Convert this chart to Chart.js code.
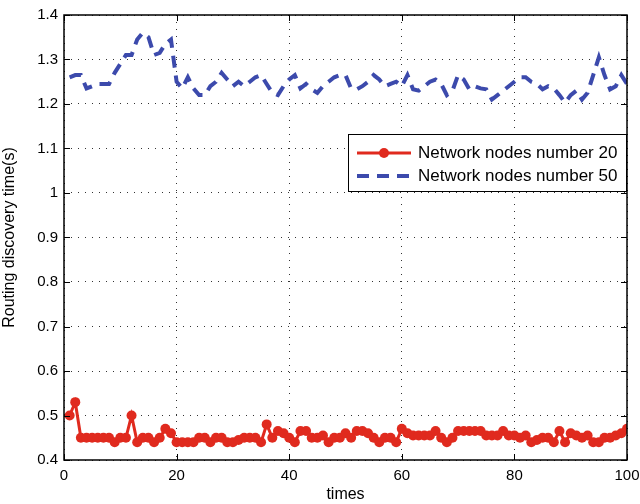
<!DOCTYPE html>
<html>
<head>
<meta charset="utf-8">
<script src="https://cdn.jsdelivr.net/npm/chart.js@4.4.0/dist/chart.umd.min.js"></script>
<style>
  html, body { margin: 0; padding: 0; background: #fff; }
  #wrap { width: 640px; height: 504px; }
</style>
</head>
<body>
<div id="wrap"><canvas id="routeChart" width="640" height="504"></canvas></div>
<script>
// values (x = 1..100)
var nodes20 = [0.50,0.53,0.45,0.45,0.45,0.45,0.45,0.45,0.44,0.45,
               0.45,0.50,0.44,0.45,0.45,0.44,0.45,0.47,0.46,0.44,
               0.44,0.44,0.44,0.45,0.45,0.44,0.45,0.45,0.44,0.44,
               0.445,0.45,0.45,0.45,0.44,0.48,0.45,0.465,0.46,0.45,
               0.44,0.465,0.465,0.45,0.45,0.455,0.44,0.45,0.45,0.46,
               0.45,0.465,0.465,0.46,0.45,0.44,0.45,0.45,0.44,0.47,
               0.46,0.455,0.455,0.455,0.455,0.465,0.45,0.44,0.45,0.465,
               0.465,0.465,0.465,0.465,0.455,0.455,0.455,0.465,0.455,0.455,
               0.45,0.455,0.44,0.445,0.45,0.45,0.44,0.465,0.44,0.46,
               0.455,0.45,0.455,0.44,0.44,0.45,0.45,0.455,0.46,0.47];
var nodes50 = [1.26,1.265,1.265,1.235,1.24,1.245,1.245,1.245,1.27,1.29,
               1.31,1.31,1.345,1.36,1.35,1.31,1.315,1.335,1.345,1.25,
               1.235,1.26,1.235,1.22,1.22,1.24,1.25,1.27,1.255,1.24,
               1.25,1.24,1.25,1.26,1.265,1.245,1.225,1.22,1.24,1.255,
               1.265,1.235,1.245,1.233,1.225,1.24,1.25,1.26,1.265,1.265,
               1.235,1.233,1.24,1.25,1.265,1.255,1.24,1.245,1.25,1.24,
               1.265,1.233,1.23,1.24,1.25,1.255,1.245,1.22,1.23,1.265,
               1.255,1.233,1.24,1.235,1.233,1.21,1.22,1.23,1.24,1.25,
               1.26,1.26,1.25,1.245,1.233,1.24,1.235,1.22,1.203,1.22,
               1.23,1.21,1.225,1.265,1.305,1.265,1.233,1.24,1.265,1.245];
var xTicks = [0, 20, 40, 60, 80, 100];
var yTicks = [0.4,0.5,0.6,0.7,0.8,0.9,1,1.1,1.2,1.3,1.4];
var seriesNames = ['Network nodes number 20', 'Network nodes number 50'];

function toPoints(arr) {
  return arr.map(function(v, i){ return {x: i + 1, y: v}; });
}

var RED = 'rgb(224,42,30)';
var BLUE = 'rgb(60,74,172)';
var FONT = '"Liberation Sans", Arial, sans-serif';

// frame, inward ticks and the legend box (matlab look)
var framePlugin = {
  id: 'framePlugin',
  afterDraw: function(chart) {
    var c = chart.ctx, a = chart.chartArea;
    var xs = chart.scales.x, ys = chart.scales.y;
    c.save();
    c.strokeStyle = '#000';
    c.lineWidth = 1;
    c.beginPath();
    xTicks.forEach(function(t){
      var px = Math.round(xs.getPixelForValue(t)) + 0.5;
      c.moveTo(px, a.bottom); c.lineTo(px, a.bottom - 6);
      c.moveTo(px, a.top); c.lineTo(px, a.top + 6);
    });
    yTicks.forEach(function(t){
      var py = Math.round(ys.getPixelForValue(t)) + 0.5;
      c.moveTo(a.left, py); c.lineTo(a.left + 6, py);
      c.moveTo(a.right, py); c.lineTo(a.right - 6, py);
    });
    c.stroke();
    c.lineWidth = 1.5;
    c.strokeRect(a.left, a.top, a.right - a.left, a.bottom - a.top);

    // legend
    var lx = 348, ly = 134, lw = 278, lh = 57;
    c.fillStyle = '#fff';
    c.fillRect(lx, ly, lw, lh);
    c.lineWidth = 1;
    c.strokeRect(lx + 0.5, ly + 0.5, lw, lh);
    var rows = [ly + 19, ly + 42];
    c.lineWidth = 3;
    c.strokeStyle = RED;
    c.beginPath(); c.moveTo(357, rows[0]); c.lineTo(411, rows[0]); c.stroke();
    c.fillStyle = RED;
    c.beginPath(); c.arc(384, rows[0], 5, 0, Math.PI * 2); c.fill();
    c.strokeStyle = BLUE;
    c.lineWidth = 4;
    c.setLineDash([12, 8]);
    c.beginPath(); c.moveTo(357, rows[1]); c.lineTo(411, rows[1]); c.stroke();
    c.setLineDash([]);
    c.fillStyle = '#000';
    c.font = '17px ' + FONT;
    c.textBaseline = 'middle';
    c.fillText(seriesNames[0], 418, rows[0]);
    c.fillText(seriesNames[1], 418, rows[1]);
    c.restore();
  }
};

var ctx = document.getElementById('routeChart').getContext('2d');
var routeChart = new Chart(ctx, {
  type: 'line',
  data: {
    datasets: [{
      label: seriesNames[0],
      data: toPoints(nodes20),
      borderColor: RED,
      backgroundColor: RED,
      borderWidth: 3,
      pointRadius: 5,
      pointBorderWidth: 0,
      pointBackgroundColor: RED,
      fill: false,
      tension: 0
    }, {
      label: seriesNames[1],
      data: toPoints(nodes50),
      borderColor: BLUE,
      backgroundColor: BLUE,
      borderWidth: 4,
      borderDash: [12, 8],
      pointRadius: 0,
      fill: false,
      tension: 0
    }]
  },
  options: {
    responsive: false,
    animation: false,
    devicePixelRatio: 1,
    layout: { padding: { top: 15, right: 13, left: 0, bottom: 0 } },
    plugins: { legend: { display: false }, tooltip: { enabled: false } },
    scales: {
      x: {
        type: 'linear', min: 0, max: 100,
        afterBuildTicks: function(s){ s.ticks = xTicks.map(function(v){ return {value: v}; }); },
        afterFit: function(s){ s.height = 44; s.paddingLeft = 0; s.paddingRight = 0; },
        ticks: { color: '#000', font: { family: FONT, size: 15 }, padding: 7, maxRotation: 0 },
        grid: { color: '#333', lineWidth: 1, drawTicks: false },
        border: { display: false, dash: [1, 6] },
        title: { display: true, text: 'times', color: '#000', font: { family: FONT, size: 16 }, padding: { top: 0, bottom: 0 } }
      },
      y: {
        min: 0.4, max: 1.4,
        afterBuildTicks: function(s){ s.ticks = yTicks.map(function(v){ return {value: v}; }); },
        afterFit: function(s){ s.width = 64; s.paddingTop = 0; s.paddingBottom = 0; },
        ticks: {
          color: '#000', font: { family: FONT, size: 15 }, padding: 6,
          callback: function(v){ return String(+Number(v).toFixed(1)); }
        },
        grid: { color: '#333', lineWidth: 1, drawTicks: false },
        border: { display: false, dash: [1, 6] },
        title: { display: true, text: 'Routing discovery time(s)', color: '#000', font: { family: FONT, size: 16 }, padding: { top: 0, bottom: 4 } }
      }
    }
  },
  plugins: [framePlugin]
});
</script>
</body>
</html>
